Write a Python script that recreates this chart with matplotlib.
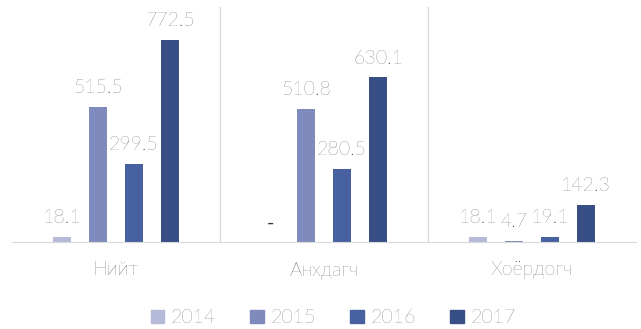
import numpy as np
import matplotlib.pyplot as plt
from matplotlib.patches import Patch

categories = ["Нийт", "Анхдагч", "Хоёрдогч"]
years = ["2014", "2015", "2016", "2017"]
values_2014 = [18.1, 0.0, 18.1]
values_2015 = [515.5, 510.8, 4.7]
values_2016 = [299.5, 280.5, 19.1]
values_2017 = [772.5, 630.1, 142.3]
colors = ["#b4bad8", "#7f8bbc", "#4761a0", "#384f86"]

plt.rcParams["font.family"] = ["Lato", "DejaVu Sans"]
text_color = "#333333"

fig = plt.figure(figsize=(6.41, 3.29), dpi=100)
ax = fig.add_axes([0.0187, 0.2644, 0.9735, 0.7143])

x = np.arange(len(categories))
series = [values_2014, values_2015, values_2016, values_2017]
width = 0.091
step = 0.173
for i, (vals, col) in enumerate(zip(series, colors)):
    pos = x + (i - 1.5) * step
    bars = ax.bar(pos, vals, width=width, color=col, zorder=2)
    for b, v in zip(bars, vals):
        if v == 0:
            # zero shown as a dash
            ax.text(b.get_x() + b.get_width() / 2, v + 38, "-",
                    ha="center", va="bottom", fontsize=14, color=text_color)
        else:
            ax.text(b.get_x() + b.get_width() / 2, v + 38, f"{v:.1f}",
                    ha="center", va="bottom", fontsize=14, color=text_color,
                    fontweight="light")

ax.set_xlim(-0.5, 2.5)
ax.set_ylim(0, 900)
for s in ["top", "right", "left"]:
    ax.spines[s].set_visible(False)
ax.spines["bottom"].set_color("#d9d9d9")
for sep in [0.5, 1.5]:
    ax.axvline(sep, color="#d9d9d9", lw=1, zorder=1)
ax.set_yticks([])
ax.set_xticks(x)
ax.set_xticklabels(categories, fontsize=14, color=text_color, fontweight="light")
ax.tick_params(axis="x", length=0, pad=14)

handles = [Patch(color=c) for c in colors]
fig.legend(handles, years, loc="center", bbox_to_anchor=(0.52, 0.033), ncol=4,
           frameon=False, handlelength=0.7, handleheight=0.7,
           handletextpad=0.35, columnspacing=1.75,
           labelcolor=text_color, prop={"weight": "light", "size": 14})

fig.savefig("out.png", dpi=100)
